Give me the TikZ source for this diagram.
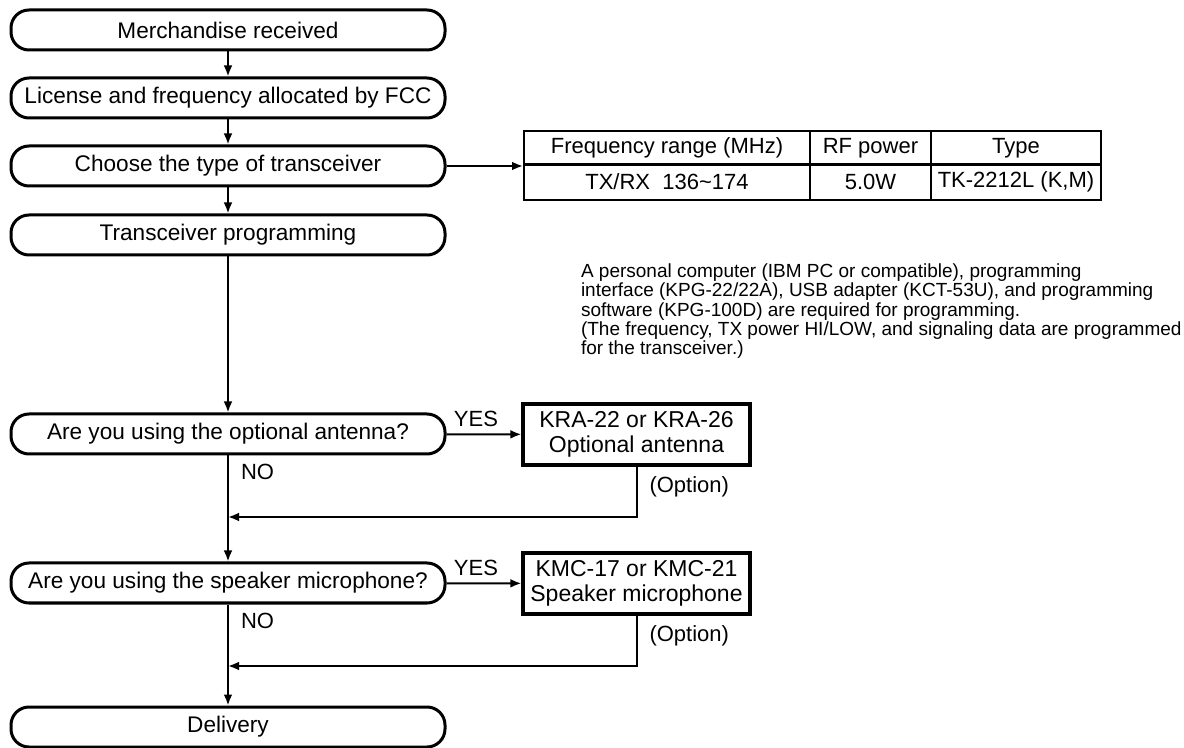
\documentclass[tikz,border=0pt]{standalone}
\usepackage{fontspec}
\setmainfont{Liberation Sans}
\usetikzlibrary{arrows.meta}

\begin{document}
\begin{tikzpicture}[x=0.5pt,y=-0.5pt,>={Latex[length=5.5pt,width=4.4pt]},line width=1pt,
  flow node/.style={draw,line width=1.5pt,rounded corners=9pt,minimum width=217pt,minimum height=20pt,inner sep=0pt,font=\fontsize{11.3}{13}\selectfont},
  opt node/.style={draw,line width=1.6pt,minimum width=113.5pt,minimum height=30.5pt,inner sep=0pt,align=center,font=\fontsize{11.5}{12.5}\selectfont},
  cell/.style={draw,line width=1pt,minimum height=17pt,inner sep=0pt,font=\fontsize{11}{12}\selectfont},
  tag/.style={inner sep=0pt,font=\fontsize{11}{13}\selectfont}]
  \useasboundingbox (0,0) rectangle (1184,748);

  % main flow
  \node[flow node] (1) at (228,30) {Merchandise received};
  \node[flow node] (2) at (228,98) {License and frequency allocated by FCC};
  \node[flow node] (3) at (228,166) {Choose the type of transceiver};
  \node[flow node] (4) at (228,235) {Transceiver programming};
  \node[flow node] (5) at (228,434) {Are you using the optional antenna?};
  \node[flow node] (6) at (228,583) {Are you using the speaker microphone?};
  \node[flow node] (7) at (228,727) {Delivery};

  % table of types
  \node[cell,minimum width=143pt] (freq) at (667,148) {Frequency range (MHz)};
  \node[cell,minimum width=60.5pt] (rf) at (870.5,148) {RF power};
  \node[cell,minimum width=85pt] (type) at (1016,148) {Type};
  \node[cell,minimum width=143pt,minimum height=18pt] (freqv) at (667,182) {TX/RX\ \ 136\textasciitilde 174};
  \node[cell,minimum width=60.5pt,minimum height=18pt] (rfv) at (870.5,182) {5.0W};
  \node[cell,minimum width=85pt,minimum height=18pt] (typev) at (1016,182) {TK-2212L (K,M)};

  \node[anchor=north west,inner sep=0pt,align=left,font=\fontsize{9.5}{9.6}\selectfont] (note) at (580,263)
    {A personal computer (IBM PC or compatible), programming\\
     interface (KPG-22/22A), USB adapter (KCT-53U), and programming\\
     software (KPG-100D) are required for programming.\\
     (The frequency, TX power HI/LOW, and signaling data are programmed\\
     for the transceiver.)};

  % options
  \node[opt node] (ant) at (636.5,434.5) {KRA-22 or KRA-26\\Optional antenna};
  \node[opt node] (mic) at (636.5,583.5) {KMC-17 or KMC-21\\Speaker microphone};

  \coordinate (j1) at (228,517);
  \coordinate (j2) at (228,666);

  \path[->]
    (1) edge (2)
    (2) edge (3)
    (3) edge (4)
    (4) edge (5)
    (5) edge (6)
    (6) edge (7)
    (5) edge (ant)
    (6) edge (mic);
  \draw[->] (3) -- (3 -| freqv.north west);

  \draw[->] (ant) |- node[tag,pos=0.2,right=6pt] {(Option)} (j1);
  \draw[->] (mic) |- node[tag,pos=0.2,right=6pt] {(Option)} (j2);

  \node[tag] (yes1) at (476,419) {YES};
  \node[tag] (yes2) at (476,568) {YES};
  \node[tag,anchor=west] (no1) at (240,472) {NO};
  \node[tag,anchor=west] (no2) at (240,621) {NO};
\end{tikzpicture}
\end{document}
